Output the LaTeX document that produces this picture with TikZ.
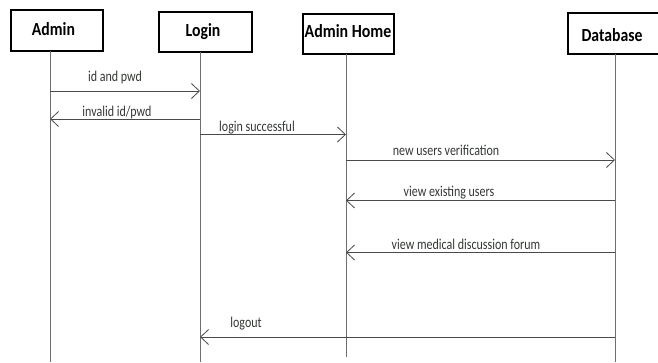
\documentclass[tikz,border=0pt]{standalone}
\usepackage{fontspec}
\setmainfont{Carlito}
\usetikzlibrary{arrows.meta}
\definecolor{lifegray}{HTML}{6E6E6E}
\definecolor{msggray}{HTML}{4A4A4A}
\definecolor{labgray}{HTML}{333833}
\newcommand{\sqz}[2]{\scalebox{#1}[1]{#2}}
\tikzset{
  actor/.style={draw=black, line width=2.4pt, fill=white, inner sep=0pt},
  actorlab/.style={font=\bfseries\fontsize{18.5}{20}\selectfont, inner sep=0pt, anchor=base},
  lifeline/.style={draw=lifegray, line width=0.9pt},
  msg/.style={draw=msggray, line width=0.9pt,
    -{Straight Barb[length=8pt,width=15pt,line width=0.8pt]}},
  msglab/.style={text=labgray, font=\fontsize{15}{17}\selectfont, inner sep=0pt, anchor=base}
}
\begin{document}
\begin{tikzpicture}[x=1pt,y=-1pt]
\useasboundingbox (0,0) rectangle (658,362);
% actors
\node[actor, minimum width=92pt, minimum height=41pt] (admin) at (57,30.5) {};
\node[actorlab] (admint) at (53.5,35) {\sqz{0.85}{Admin}};
\node[actor, minimum width=93pt, minimum height=40pt] (login) at (205.5,32) {};
\node[actorlab] (logint) at (203,36) {\sqz{0.85}{Login}};
\node[actor, minimum width=91pt, minimum height=40pt] (ahome) at (348.5,34) {};
\node[actorlab] (ahomet) at (348,37) {\sqz{0.86}{Admin Home}};
\node[actor, minimum width=91pt, minimum height=41pt] (db) at (613.5,33.5) {};
\node[actorlab] (dbt) at (612,41.5) {\sqz{0.85}{Database}};
% lifeline coordinates
\coordinate (adminTop) at (50,51);
\coordinate (adminBot) at (50,362);
\coordinate (loginTop) at (200,52);
\coordinate (loginBot) at (200,362);
\coordinate (ahomeTop) at (346,54);
\coordinate (ahomeBot) at (346,357);
\coordinate (dbTop) at (615,54);
\coordinate (dbBot) at (615,362);
\draw[lifeline] (adminTop) -- (adminBot);
\draw[lifeline] (loginTop) -- (loginBot);
\draw[lifeline] (ahomeTop) -- (ahomeBot);
\draw[lifeline] (dbTop) -- (dbBot);
% messages
\draw[msg] (adminTop |- 0,91) -- (loginTop |- 0,91);
\node[msglab] (m1) at (115,81.5) {\sqz{0.8}{id and pwd}};
\draw[msg] (loginTop |- 0,119) -- (adminTop |- 0,119);
\node[msglab] (m2) at (117,116.5) {\sqz{0.8}{invalid id/pwd}};
\draw[msg] (loginTop |- 0,134.5) -- (ahomeTop |- 0,134.5);
\node[msglab] (m3) at (257,131) {\sqz{0.8}{login successful}};
\draw[msg] (ahomeTop |- 0,160) -- (dbTop |- 0,160);
\node[msglab] (m4) at (446,155) {\sqz{0.8}{new users verification}};
\draw[msg] (dbTop |- 0,200.5) -- (ahomeTop |- 0,200.5);
\node[msglab] (m5) at (449,196.5) {\sqz{0.8}{view existing users}};
\draw[msg] (dbTop |- 0,252.5) -- (ahomeTop |- 0,252.5);
\node[msglab] (m6) at (466,249) {\sqz{0.8}{view medical discussion forum}};
\draw[msg] (dbTop |- 0,337) -- (loginTop |- 0,337);
\node[msglab] (m7) at (246,327) {\sqz{0.8}{logout}};
\end{tikzpicture}
\end{document}
